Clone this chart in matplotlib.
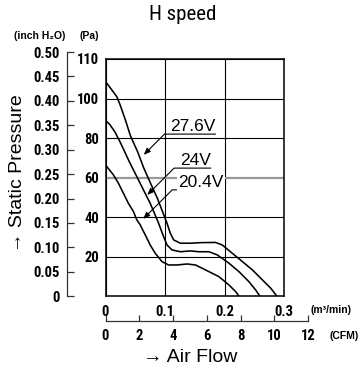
import numpy as np
import matplotlib
matplotlib.use("Agg")
import matplotlib.pyplot as plt
import matplotlib.font_manager as fm

# ---------------- data ----------------
flow_276 = [0, 0.0105, 0.019, 0.0245, 0.033, 0.042, 0.054, 0.064, 0.075, 0.0868,
            0.0953, 0.1032, 0.1088, 0.1143, 0.1256, 0.1425, 0.1594, 0.1847, 0.196,
            0.2128, 0.2297, 0.2465, 0.2634, 0.2774, 0.2875]
pres_276 = [108.6, 104.4, 100.9, 96.8, 89.5, 81, 73, 65, 57.5, 49.7,
            43.1, 36.9, 31.8, 28.5, 26.8, 26.8, 27.1, 27.2, 25.9,
            21.7, 17.5, 13.3, 8.2, 4, 0]

flow_24 = [0, 0.0076, 0.016, 0.0245, 0.030, 0.040, 0.050, 0.060, 0.0666, 0.075,
           0.089, 0.0975, 0.1032, 0.1116, 0.1256, 0.1425, 0.1565, 0.1734, 0.1875,
           0.2071, 0.224, 0.2408, 0.2521, 0.259]
pres_24 = [89, 86.7, 83, 78, 74.5, 68, 62, 56, 52, 47,
           37, 30.1, 25.9, 23.4, 22.5, 22.9, 22.5, 22.5, 20.9,
           16.7, 12.4, 7.3, 3.1, 0]

flow_204 = [0, 0.0132, 0.0216, 0.030, 0.0384, 0.0469, 0.0526, 0.0582, 0.0695, 0.075,
            0.0835, 0.0948, 0.1059, 0.12, 0.137, 0.151, 0.1678, 0.1902, 0.2071,
            0.2184, 0.224]
pres_204 = [66.4, 61.4, 57.2, 52.1, 47, 42.8, 38.6, 36.1, 29.3, 25.9,
            21.7, 17.5, 15.8, 15.8, 16.3, 15.8, 13.3, 9.9, 5.7,
            2.3, 0]

series_labels = ["27.6V", "24V", "20.4V"]
tips = [(0.0641, 71.5), (0.070, 51.2), (0.0632, 39.1)]
label_pos = [(0.1847, 82.0), (0.1766, 64.8), (0.198, 53.8)]

m3_ticks = [0, 0.1, 0.2, 0.3]
m3_ticklabels = ["0", "0.1", "0.2", "0.3"]
pa_ticks = [20, 40, 60, 80, 100, 120]
pa_ticklabels = ["20", "40", "60", "80", "100", "110"]
inch_ticks = [0, 0.05, 0.10, 0.15, 0.20, 0.25, 0.30, 0.35, 0.40, 0.45, 0.50]
inch_ticklabels = ["0", "0.05", "0.10", "0.15", "0.20", "0.25", "0.30", "0.35",
                   "0.40", "0.45", "0.50"]
cfm_ticks = [0, 2, 4, 6, 8, 10, 12]
cfm_ticklabels = ["0", "2", "4", "6", "8", "10", "12"]

# ---------------- fonts ----------------
def has(name):
    try:
        fm.findfont(fm.FontProperties(family=name), fallback_to_default=False)
        return True
    except Exception:
        return False

cands = ["Roboto Condensed", "Liberation Sans Narrow", "DejaVu Sans Condensed",
         "Open Sans Condensed", "Arial Narrow"]
NARROW = None
for c in cands:
    if has(c):
        NARROW = c
        break
STRETCH = "normal"
if NARROW is None:
    NARROW = "DejaVu Sans"
    STRETCH = "condensed"
SANS = "Liberation Sans" if has("Liberation Sans") else "DejaVu Sans"
plt.rcParams["font.family"] = [SANS, "DejaVu Sans"]

W, H = 364, 369
fig = plt.figure(figsize=(W / 100, H / 100), dpi=100)

def fx(px):
    return px / W

def fy(py):
    return 1 - py / H

nfont = dict(family=NARROW, fontstretch=STRETCH, fontweight="bold", fontsize=10.5)

# ---------------- main axes ----------------
ax = fig.add_axes([fx(105.5), fy(296.2), (284.3 - 105.5) / W, (296.2 - 59) / H])
ax.set_xlim(0, 0.3)
ax.set_ylim(0, 120)
ax.set_xticks(m3_ticks)
ax.set_xticklabels(m3_ticklabels, **nfont)
ax.set_yticks(pa_ticks)
ax.set_yticklabels(pa_ticklabels, **nfont)
ax.tick_params(axis="both", length=0)
ax.tick_params(axis="x", pad=6)
ax.tick_params(axis="y", pad=4.5)
ax.grid(True, color="black", linewidth=0.8)
ax.get_ygridlines()[2].set_color("#999999")
ax.get_ygridlines()[2].set_linewidth(1.6)
for s in ax.spines.values():
    s.set_linewidth(1.1)

for fl, pr in [(flow_276, pres_276), (flow_24, pres_24), (flow_204, pres_204)]:
    ax.plot(fl, pr, color="black", linewidth=1.15, solid_capstyle="butt", zorder=3)

for lab, tip, pos in zip(series_labels, tips, label_pos):
    bbox = dict(facecolor="white", edgecolor="none", pad=1.0) if lab == "20.4V" else None
    ax.annotate(lab, xy=tip, xytext=pos, ha="right", va="bottom",
                fontsize=12.5, family=[SANS, "DejaVu Sans"], bbox=bbox, zorder=5,
                arrowprops=dict(arrowstyle="-|>,head_length=0.5,head_width=0.2",
                                connectionstyle="angle,angleA=0,angleB=45,rad=0",
                                relpos=(1.0, 0.0), color="black", lw=0.8,
                                shrinkA=0, shrinkB=0, patchA=None,
                                mutation_scale=8))

# ---------------- inch H2O axis ----------------
ax2 = fig.add_axes([fx(67), fy(296.2), 0.0005, (296.2 - 52) / H])
ax2.set_ylim(0, 0.5)
ax2.set_xticks([])
ax2.set_yticks(inch_ticks)
ax2.set_yticklabels(inch_ticklabels, **nfont)
ax2.tick_params(axis="y", direction="in", length=5, width=0.9, pad=5, color="#333333")
ax2.patch.set_visible(False)
for k in ["right", "top", "bottom"]:
    ax2.spines[k].set_visible(False)
ax2.spines["left"].set_linewidth(0.9)
ax2.spines["left"].set_color("#333333")

# ---------------- CFM axis ----------------
ax3 = fig.add_axes([fx(105.5), fy(321), (308 - 105.5) / W, 0.0005])
ax3.set_xlim(0, 12)
ax3.set_yticks([])
ax3.set_xticks(cfm_ticks)
ax3.set_xticklabels(cfm_ticklabels, **nfont)
ax3.tick_params(axis="x", direction="in", length=4, width=0.9, pad=6, color="#333333")
ax3.patch.set_visible(False)
for k in ["left", "right", "top"]:
    ax3.spines[k].set_visible(False)
ax3.spines["bottom"].set_linewidth(0.9)
ax3.spines["bottom"].set_color("#333333")

# ---------------- texts ----------------
fig.text(fx(183), fy(14), "H speed", family=NARROW, fontstretch=STRETCH, fontsize=15,
         ha="center", va="center")
fig.text(fx(40), fy(36), "(inch H\u2082O)", family=[SANS, "DejaVu Sans"], fontsize=7.5,
         fontweight="bold", ha="center", va="center")
fig.text(fx(89), fy(36), "(Pa)", fontsize=7.5, fontweight="bold", ha="center", va="center")
fig.text(fx(331), fy(310), "(m\u00b3/min)", family=[SANS, "DejaVu Sans"], fontsize=7.5,
         fontweight="bold", ha="center", va="center")
fig.text(fx(344), fy(336), "(CFM)", fontsize=7.5, fontweight="bold", ha="center", va="center")
fig.text(fx(18), fy(173), "\u2192 Static Pressure", family=[SANS, "DejaVu Sans"],
         fontsize=14, rotation=90, ha="center", va="center")
fig.text(fx(190), fy(358), "\u2192 Air Flow", family=[SANS, "DejaVu Sans"],
         fontsize=14, ha="center", va="center")

fig.savefig("out.png", dpi=100)
